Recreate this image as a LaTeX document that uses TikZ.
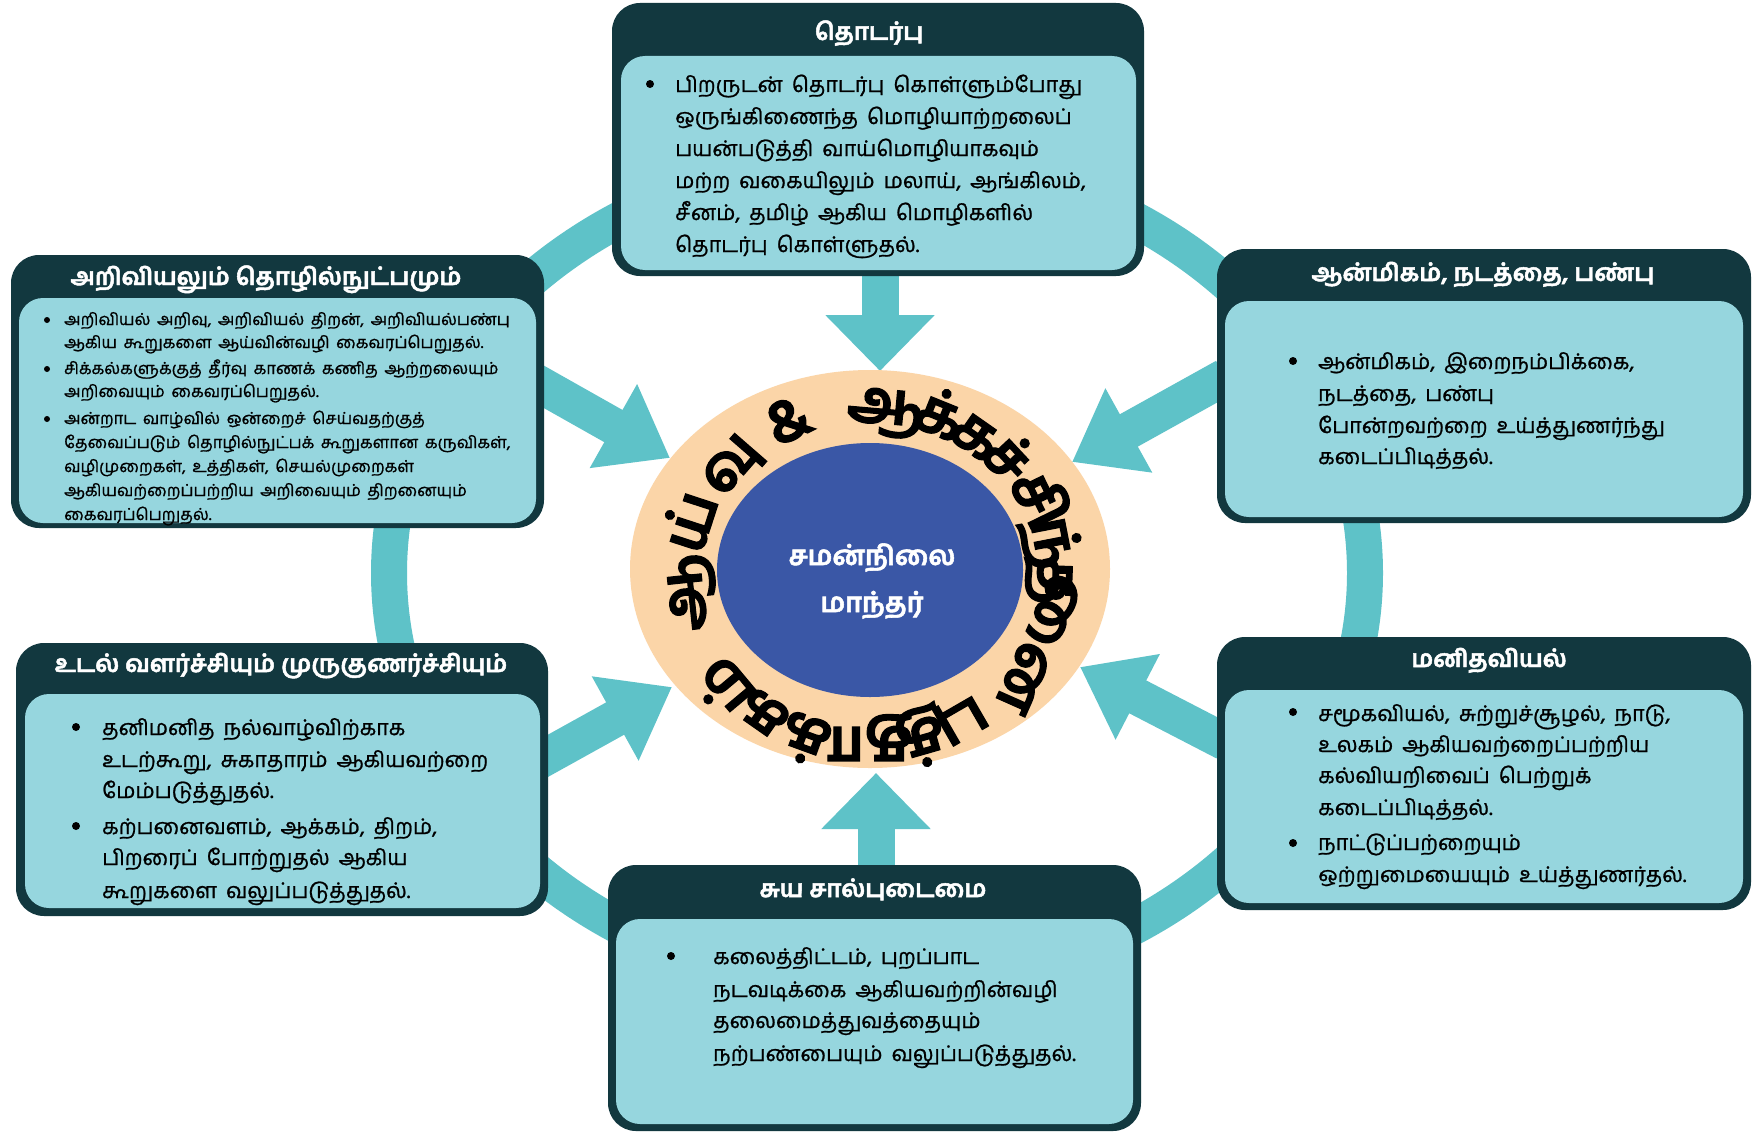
\documentclass[tikz,border=0pt]{standalone}
\usepackage{fontspec}
\usetikzlibrary{arrows.meta,shapes.geometric}
\newfontfamily\tamil[Script=Tamil]{Hind Madurai}
\newfontfamily\tamilbody[Script=Tamil,FakeBold=1]{Hind Madurai}
\newfontfamily\tamilheavy[Script=Tamil,BoldFeatures={FakeBold=2}]{Hind Madurai}
\definecolor{darkbox}{RGB}{18,56,63}
\definecolor{lightbox}{RGB}{150,214,222}
\definecolor{ringteal}{RGB}{94,194,200}
\definecolor{peach}{RGB}{251,213,168}
\definecolor{coreblue}{RGB}{58,87,166}
\newcommand\widespace{\setlength\spaceskip{0.42em}}
\newcommand\smallspace{\setlength\spaceskip{0.4em}}
\tikzset{
  outerbox/.style={fill=darkbox, rounded corners=28pt, inner sep=0pt, draw=none},
  innerbox/.style={fill=lightbox, rounded corners=24pt, inner sep=0pt, draw=none},
  boxtitle/.style={font=\tamilheavy\bfseries\fontsize{24}{30}\selectfont, text=white, anchor=base, inner sep=0pt},
  body/.style={font=\tamilbody\fontsize{21.5}{30}\selectfont, execute at begin node=\widespace, anchor=base west, inner sep=0pt},
  smallbody/.style={font=\tamilbody\fontsize{16.5}{20}\selectfont, execute at begin node=\smallspace, anchor=base west, inner sep=0pt},
  bul/.style={circle, fill=black, inner sep=0pt, minimum size=8pt},
  smallbul/.style={circle, fill=black, inner sep=0pt, minimum size=6pt},
  blockarrow/.style={draw=ringteal, line width=37pt, -{Triangle[width=92pt,length=65pt]}},
  vblockarrow/.style={draw=ringteal, line width=37pt, -{Triangle[width=106pt,length=56pt]}},
  ringtext/.style={font=\tamilheavy\bfseries\fontsize{60}{66}\selectfont, anchor=base, inner sep=0pt},
  coretext/.style={font=\tamilheavy\bfseries\fontsize{27}{34}\selectfont, text=white, anchor=base, inner sep=0pt}
}
\begin{document}
\begin{tikzpicture}[x=1pt,y=-1pt]
\useasboundingbox (0,0) rectangle (1753,1132);
\fill[white] (0,0) rectangle (1753,1132);
% ring
\draw[ringteal, line width=36pt] (877,573) ellipse [x radius=488pt, y radius=416pt];
% arrow coordinates
\coordinate (tS) at (880,250);  \coordinate (tT) at (880,371);
\coordinate (bS) at (876,890);  \coordinate (bT) at (876,773);
\coordinate (ltS) at (530,379); \coordinate (ltT) at (670,458);
\coordinate (lbS) at (535,763); \coordinate (lbT) at (672,687);
\coordinate (rtS) at (1225,377); \coordinate (rtT) at (1072,462);
\coordinate (rbS) at (1225,742); \coordinate (rbT) at (1080,667);
\draw[vblockarrow] (tS) -- (tT);
\draw[vblockarrow] (bS) -- (bT);
\draw[blockarrow] (ltS) -- (ltT);
\draw[blockarrow] (lbS) -- (lbT);
\draw[blockarrow] (rtS) -- (rtT);
\draw[blockarrow] (rbS) -- (rbT);
% centre
\node[ellipse, fill=peach, minimum width=480pt, minimum height=398pt, inner sep=0pt] (peachring) at (870,569) {};
\node[ellipse, fill=coreblue, minimum width=306pt, minimum height=254pt, inner sep=0pt] (core) at (870,570) {};
\foreach \t/\g [count=\i] in {186/ஆ,162/ய்,139/வு,116/\&,85/ஆ,68/க்,55/க,43/ச்,26/சி,11/ந்,-2/த,-24/னை,-60/பு,-74/த்,-90/தா,-110/க்,-125/க,-140/ம்}{
  \node[ringtext, rotate=\t-90] (rc\i) at ({870+168*cos(\t)},{575-152*sin(\t)}) {\g};
}
\node[coretext] (core1) at (872,565) {சமன்நிலை};
\node[coretext] (core2) at (872,612) {மாந்தர்};
% top box
\node[outerbox, minimum width=532pt, minimum height=273pt] (topbox) at (878,139.5) {};
\node[innerbox, minimum width=515pt, minimum height=214pt] (topin) at (878.5,163) {};
\node[boxtitle] (toptitle) at (869,40) {தொடர்பு};
\node[bul] (topb1) at (650,84) {};
\node[body] (t1) at (675,92) {பிறருடன் தொடர்பு கொள்ளும்போது};
\node[body] (t2) at (675,124) {ஒருங்கிணைந்த மொழியாற்றலைப்};
\node[body] (t3) at (675,156) {பயன்படுத்தி வாய்மொழியாகவும்};
\node[body] (t4) at (675,188) {மற்ற வகையிலும் மலாய், ஆங்கிலம்,};
\node[body] (t5) at (675,220) {சீனம், தமிழ் ஆகிய மொழிகளில்};
\node[body] (t6) at (675,252) {தொடர்பு கொள்ளுதல்.};
% left top box
\node[outerbox, minimum width=533pt, minimum height=273pt] (ltbox) at (277.5,391.5) {};
\node[innerbox, minimum width=517pt, minimum height=225pt] (ltin) at (277.5,410.5) {};
\node[boxtitle] (lttitle) at (266,285) {அறிவியலும் தொழில்நுட்பமும்};
\node[smallbul] (ltb1) at (47,320) {};
\node[smallbul] (ltb2) at (47,369) {};
\node[smallbul] (ltb3) at (47,419) {};
\node[smallbody] (l1) at (64,325) {அறிவியல் அறிவு, அறிவியல் திறன், அறிவியல்பண்பு};
\node[smallbody] (l2) at (64,348) {ஆகிய கூறுகளை ஆய்வின்வழி கைவரப்பெறுதல்.};
\node[smallbody] (l3) at (64,374) {சிக்கல்களுக்குத் தீர்வு காணக் கணித ஆற்றலையும்};
\node[smallbody] (l4) at (64,397) {அறிவையும் கைவரப்பெறுதல்.};
\node[smallbody] (l5) at (64,424) {அன்றாட வாழ்வில் ஒன்றைச் செய்வதற்குத்};
\node[smallbody] (l6) at (64,448) {தேவைப்படும் தொழில்நுட்பக் கூறுகளான கருவிகள்,};
\node[smallbody] (l7) at (64,472) {வழிமுறைகள், உத்திகள், செயல்முறைகள்};
\node[smallbody] (l8) at (64,496) {ஆகியவற்றைப்பற்றிய அறிவையும் திறனையும்};
\node[smallbody] (l9) at (64,520) {கைவரப்பெறுதல்.};
% right top box
\node[outerbox, minimum width=534pt, minimum height=274pt] (rtbox) at (1484,386) {};
\node[innerbox, minimum width=518pt, minimum height=216pt] (rtin) at (1484,409) {};
\node[boxtitle] (rttitle) at (1483,281) {ஆன்மிகம், நடத்தை, பண்பு};
\node[bul] (rtb1) at (1293,361) {};
\node[body] (r1) at (1318,369) {ஆன்மிகம், இறைநம்பிக்கை,};
\node[body] (r2) at (1318,401) {நடத்தை, பண்பு};
\node[body] (r3) at (1318,433) {போன்றவற்றை உய்த்துணர்ந்து};
\node[body] (r4) at (1318,464) {கடைப்பிடித்தல்.};
% left bottom box
\node[outerbox, minimum width=532pt, minimum height=273pt] (lbbox) at (282,779.5) {};
\node[innerbox, minimum width=515pt, minimum height=214pt] (lbin) at (282.5,801) {};
\node[boxtitle] (lbtitle) at (281,672) {உடல் வளர்ச்சியும் முருகுணர்ச்சியும்};
\node[bul] (lbb1) at (76,727) {};
\node[bul] (lbb2) at (76,826) {};
\node[body] (p1) at (102,735) {தனிமனித நல்வாழ்விற்காக};
\node[body] (p2) at (102,767) {உடற்கூறு, சுகாதாரம் ஆகியவற்றை};
\node[body] (p3) at (102,798) {மேம்படுத்துதல்.};
\node[body] (p4) at (102,834) {கற்பனைவளம், ஆக்கம், திறம்,};
\node[body] (p5) at (102,865) {பிறரைப் போற்றுதல் ஆகிய};
\node[body] (p6) at (102,898) {கூறுகளை வலுப்படுத்துதல்.};
% right bottom box
\node[outerbox, minimum width=534pt, minimum height=273pt] (rbbox) at (1484,773.5) {};
\node[innerbox, minimum width=518pt, minimum height=213pt] (rbin) at (1484,796.5) {};
\node[boxtitle] (rbtitle) at (1489,667) {மனிதவியல்};
\node[bul] (rbb1) at (1293,712) {};
\node[bul] (rbb2) at (1293,843) {};
\node[body] (m1) at (1318,721) {சமூகவியல், சுற்றுச்சூழல், நாடு,};
\node[body] (m2) at (1318,752) {உலகம் ஆகியவற்றைப்பற்றிய};
\node[body] (m3) at (1318,783) {கல்வியறிவைப் பெற்றுக்};
\node[body] (m4) at (1318,815) {கடைப்பிடித்தல்.};
\node[body] (m5) at (1318,850) {நாட்டுப்பற்றையும்};
\node[body] (m6) at (1318,882) {ஒற்றுமையையும் உய்த்துணர்தல்.};
% bottom box
\node[outerbox, minimum width=533pt, minimum height=266pt] (btbox) at (874.5,998) {};
\node[innerbox, minimum width=517pt, minimum height=205pt] (btin) at (874.5,1021.5) {};
\node[boxtitle] (bttitle) at (873,897) {சுய சால்புடைமை};
\node[bul] (btb1) at (671,956) {};
\node[body] (s1) at (713,964) {கலைத்திட்டம், புறப்பாட};
\node[body] (s2) at (713,997) {நடவடிக்கை ஆகியவற்றின்வழி};
\node[body] (s3) at (713,1028) {தலைமைத்துவத்தையும்};
\node[body] (s4) at (713,1061) {நற்பண்பையும் வலுப்படுத்துதல்.};
\end{tikzpicture}
\end{document}
